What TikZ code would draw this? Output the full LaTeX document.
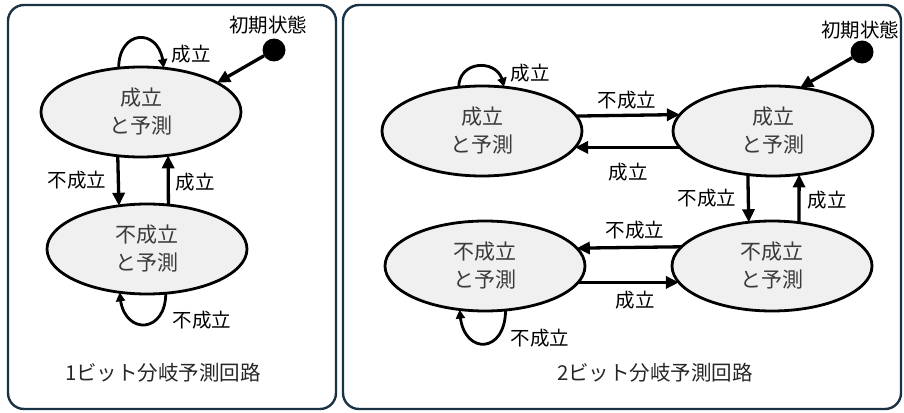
\documentclass[tikz,border=0pt]{standalone}
\usepackage{fontspec}
\setmainfont{Noto Sans CJK JP}
\usetikzlibrary{shapes.geometric,arrows.meta,bending}
\definecolor{panelc}{HTML}{1A3344}
\definecolor{statefill}{HTML}{F0F0F0}
\definecolor{statetext}{HTML}{3A3A3A}
\tikzset{
  panel/.style={draw=panelc, line width=2.4pt, rounded corners=16pt},
  state/.style={ellipse, draw=black, line width=2.8pt, fill=statefill,
    minimum width=200pt, minimum height=90pt, inner sep=0pt, outer sep=0pt,
    align=center, text=statetext, font=\fontsize{21}{28}\selectfont},
  lab/.style={inner sep=0pt, text=black, font=\fontsize{19.5}{22}\selectfont},
  ttl/.style={inner sep=0pt, text=black!85, font=\fontsize{20.5}{24}\selectfont},
  initdot/.style={circle, fill=black, minimum size=23pt, inner sep=0pt, outer sep=0pt},
  arr/.style={line width=3.3pt, -{Triangle[length=13pt,width=12pt]}},
  looparr/.style={line width=2.8pt, -{Triangle[length=9pt,width=9pt,bend]}}
}
\begin{document}
\begin{tikzpicture}[x=1pt,y=-1pt]
\useasboundingbox (0,0) rectangle (904,412);
% panels
\draw[panel] (8,5) rectangle (336,409);
\draw[panel] (343,5) rectangle (901,409);

% ---------- left panel ----------
\node[state] (L1) at (141,112) {成立\\と予測};
\node[state] (L2) at (147,249) {不成立\\と予測};
\node[initdot] (d1) at (274,50) {};
\node[lab] (i1) at (268,25) {初期状態};
\draw[arr] (d1) -- (L1.21.5);
\draw[arr] (L1.242.3) -- (L2.123.96);
\draw[arr] (L2.64.47) -- (L1.-58.07);
\draw[looparr] (L1.117.7) .. controls +(0,-41) and +(0,-41) .. (L1.63.39);
\draw[looparr] (L2.-67.87) .. controls +(0,43) and +(0,43) .. (L2.238.07);
\node[lab] (l1a) at (191,54) {成立};
\node[lab] (l1b) at (77,180) {不成立};
\node[lab] (l1c) at (195,182) {成立};
\node[lab] (l1d) at (202,320) {不成立};
\node[ttl] (t1) at (163,373) {1ビット分岐予測回路};

% ---------- right panel ----------
\node[state] (R1) at (482,131) {成立\\と予測};
\node[state] (R2) at (773,131) {成立\\と予測};
\node[state] (R3) at (772,266) {不成立\\と予測};
\node[state] (R4) at (485,266) {不成立\\と予測};
\node[initdot] (d2) at (862,52) {};
\node[lab] (i2) at (860,30) {初期状態};
\draw[arr] (d2) -- (R2.58.07);
\draw[arr] (R1.9.71) -- (R2.170.29);
\draw[arr] (R2.190.40) -- (R1.-10.40);
\draw[arr] (R2.240.15) -- (R3.118.78);
\draw[arr] (R3.58.07) -- (R2.-59.1);
\draw[arr] (R3.168.9) -- (R4.11.1);
\draw[arr] (R4.-10.40) -- (R3.190.40);
\draw[looparr] (R1.118.78) .. controls +(0,-29) and +(0,-29) .. (R1.64.47);
\draw[looparr] (R4.-65.6) .. controls +(0,46) and +(0,46) .. (R4.240.15);
\node[lab] (r1) at (530,73) {成立};
\node[lab] (r2) at (627,100) {不成立};
\node[lab] (r3) at (628,172) {成立};
\node[lab] (r4) at (707,198) {不成立};
\node[lab] (r5) at (827,200) {成立};
\node[lab] (r6) at (635,230) {不成立};
\node[lab] (r7) at (635,300) {成立};
\node[lab] (r8) at (540,338) {不成立};
\node[ttl] (t2) at (655,373) {2ビット分岐予測回路};
\end{tikzpicture}
\end{document}
